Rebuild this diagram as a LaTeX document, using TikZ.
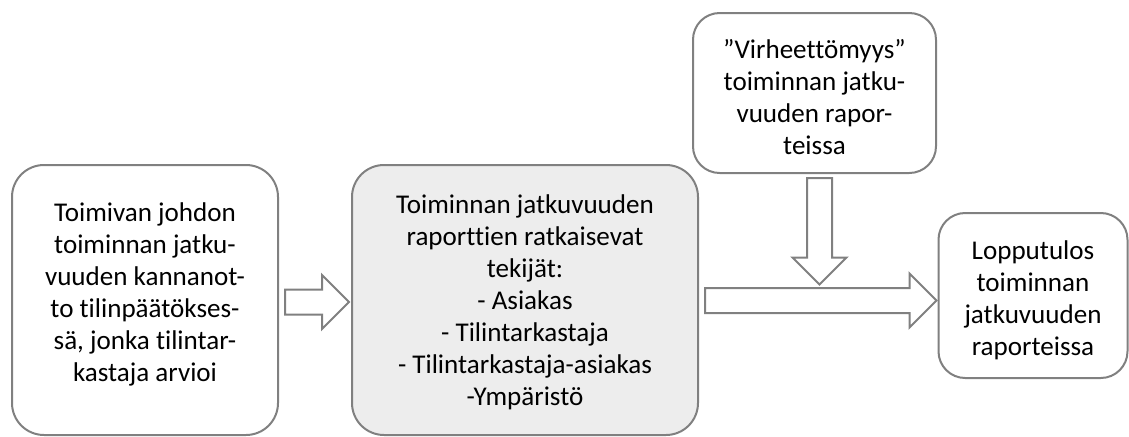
\documentclass[tikz,border=0pt]{standalone}
\usepackage{fontspec}
\setmainfont{Carlito}[Ligatures=NoCommon]
\usetikzlibrary{calc}
\definecolor{boxline}{HTML}{808080}
\definecolor{boxfill}{HTML}{EDEDED}

\tikzset{
  boxnode/.style={draw=boxline, line width=1.5pt, rounded corners=24pt, inner sep=0pt},
  boxtext/.style={align=center, inner sep=0pt, font=\fontsize{20.3pt}{24pt}\selectfont},
  blockarrow/.style={draw=boxline, line width=1.5pt, fill=white},
}

% 水平和竖直的块箭头
\newcommand{\hblock}[2]{\draw[blockarrow] ($(#1)+(0,-12.5)$) -- ($(#2)+(-27,-12.5)$) -- ($(#2)+(-27,-27)$) -- (#2) -- ($(#2)+(-27,27)$) -- ($(#2)+(-27,12.5)$) -- ($(#1)+(0,12.5)$) -- cycle;}
\newcommand{\vblock}[2]{\draw[blockarrow] ($(#1)+(-12.5,0)$) -- ($(#2)+(-12.5,-27)$) -- ($(#2)+(-27,-27)$) -- (#2) -- ($(#2)+(27,-27)$) -- ($(#2)+(12.5,-27)$) -- ($(#1)+(12.5,0)$) -- cycle;}

\begin{document}
\begin{tikzpicture}[x=0.75pt, y=-0.75pt]
\useasboundingbox (0,0) rectangle (1129,436);

% 方框
\node (johto) [boxnode, minimum width=199.5pt, minimum height=202.5pt,
  label={[boxtext, yshift=4.5pt]center:{Toimivan johdon\\toiminnan jatku-\\vuuden kannanot-\\to tilinpäätökses-\\sä, jonka tilintar-\\kastaja arvioi}}] at (145,300) {};
\node (tekijat) [boxnode, fill=boxfill, minimum width=259.5pt, minimum height=202.5pt,
  label={[boxtext, yshift=-1.5pt]center:{Toiminnan jatkuvuuden\\raporttien ratkaisevat\\tekijät:\\- Asiakas\\- Tilintarkastaja\\- Tilintarkastaja-asiakas\\-Ympäristö}}] at (525,300) {};
\node (virhe) [boxnode, rounded corners=20pt, minimum width=182.25pt, minimum height=120pt,
  label={[boxtext, yshift=-3pt]center:{”Virheettömyys”\\toiminnan jatku-\\vuuden rapor-\\teissa}}] at (814.5,93) {};
\node (tulos) [boxnode, rounded corners=20pt, minimum width=141.75pt, minimum height=123.75pt,
  label={[boxtext, yshift=-3.4pt]center:{Lopputulos\\toiminnan\\jatkuvuuden\\raporteissa}}] at (1033,295.5) {};

% 箭头
\coordinate (a1s) at ($(johto.east)+(6,2)$);
\coordinate (a1e) at ($(a1s -| tekijat.west)+(-2,0)$);
\coordinate (a2s) at ($(tekijat.east)+(6,0.5)$);
\coordinate (a2e) at ($(a2s -| tulos.west)+(-1,0)$);
\coordinate (a3s) at ($(virhe.south)+(5,4)$);
\coordinate (a3e) at ($(a3s |- a2s)+(0,-16)$);

\hblock{a1s}{a1e}
\hblock{a2s}{a2e}
\vblock{a3s}{a3e}
\end{tikzpicture}
\end{document}
